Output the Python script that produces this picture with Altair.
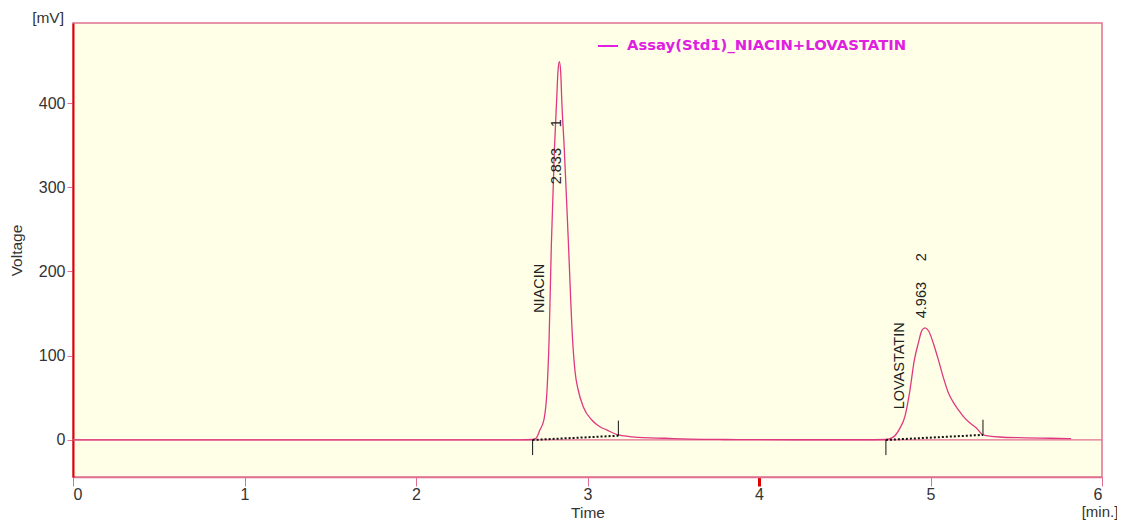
import altair as alt
import pandas as pd

# Chromatogram trace (time in min, signal in mV)
times = [0.0, 0.5, 1.0, 1.5, 2.0, 2.5, 2.60, 2.68, 2.70, 2.723, 2.746, 2.764, 2.776,
         2.789, 2.807, 2.820, 2.828, 2.836, 2.844, 2.850, 2.865, 2.888, 2.913, 2.928,
         2.946, 2.975, 3.025, 3.07, 3.112, 3.18, 3.3, 3.45, 3.6, 3.8, 4.0, 4.3, 4.6,
         4.74, 4.78, 4.822, 4.851, 4.877, 4.906, 4.929, 4.95, 4.968, 4.99, 5.016,
         5.046, 5.075, 5.104, 5.135, 5.165, 5.191, 5.23, 5.269, 5.306, 5.4, 5.55,
         5.7, 5.82]
volts = [0.0, 0.0, 0.0, 0.0, 0.0, 0.0, 0.0, 0.5, 2.0, 12.0, 24.0, 59.0, 119.0,
         230.0, 344.0, 403.0, 438.0, 449.0, 436.0, 403.0, 344.0, 237.0, 119.0, 80.0,
         59.0, 39.5, 23.7, 16.0, 11.9, 5.9, 3.0, 2.0, 1.0, 0.5, 0.3, 0.2, 0.2,
         0.5, 3.0, 14.0, 28.0, 55.0, 95.0, 115.0, 130.0, 133.0, 129.0, 115.0,
         95.0, 74.0, 56.0, 44.0, 35.0, 28.0, 20.0, 14.0, 6.0, 3.5, 2.5,
         2.0, 1.5]

# Integration baselines
base_peak = [1, 1, 2, 2]
base_time = [2.68, 3.18, 4.74, 5.306]
base_volt = [0.0, 5.0, 0.0, 6.0]

# Integration tick marks (time, from, to)
mark_time = [2.68, 3.18, 4.74, 5.306]
mark_from = [0.0, 5.0, 0.0, 6.0]
mark_to = [-18.0, 23.0, -18.0, 24.0]

# Peak annotations
ann_text = ["NIACIN", "2.833", "1", "LOVASTATIN", "4.963", "2"]
ann_time = [2.723, 2.822, 2.822, 4.822, 4.950, 4.950]
ann_volt = [180.0, 325.0, 376.0, 88.0, 166.0, 217.0]

legend_label = "Assay(Std1)_NIACIN+LOVASTATIN"
x_ticks = [0, 1, 2, 3, 4, 5, 6]
y_ticks = [0, 100, 200, 300, 400]

FONT = "Liberation Sans"
TRACE = "#E0387F"

trace_df = pd.DataFrame({"t": times, "v": volts})
base_df = pd.DataFrame({"peak": base_peak, "t": base_time, "v": base_volt})
mark_df = pd.DataFrame({"t": mark_time, "v": mark_from, "v2": mark_to})
ann_df = pd.DataFrame({"txt": ann_text, "t": ann_time, "v": ann_volt})

xscale = alt.Scale(domain=[0, 6], nice=False, zero=False)
yscale = alt.Scale(domain=[-44, 495], nice=False, zero=False)

xaxis = alt.Axis(
    title="Time", values=x_ticks, format="d", grid=False,
    domainColor="#E07090", domainWidth=1.5,
    tickColor={"condition": {"test": "datum.value == 4", "value": "#E00000"}, "value": "#E07090"},
    tickWidth={"condition": {"test": "datum.value == 4", "value": 3}, "value": 1},
    tickSize=9, labelPadding=0, labelFontSize=16, labelColor="#333333",
    labelFont=FONT, titleFont=FONT, titleFontSize=15.5, titleFontWeight="normal",
    titleColor="#333333", titlePadding=3,
)
yaxis = alt.Axis(
    title="Voltage", values=y_ticks, format="d", grid=False,
    domainColor="#E00000", domainWidth=2, tickColor="#E07090", tickSize=6,
    labelFontSize=16, labelColor="#333333", labelFont=FONT, labelPadding=2,
    titleFont=FONT, titleFontSize=15.5, titleFontWeight="normal", titleColor="#333333",
    titlePadding=14,
)

zero_rule = alt.Chart(pd.DataFrame({"v": [0]})).mark_rule(
    color="#E07090", strokeWidth=1.2
).encode(y=alt.Y("v:Q", scale=yscale, axis=yaxis))

trace = alt.Chart(trace_df).mark_line(
    color=TRACE, strokeWidth=1.3, interpolate="monotone"
).encode(
    x=alt.X("t:Q", scale=xscale, axis=xaxis),
    y=alt.Y("v:Q", scale=yscale, axis=yaxis),
)

baselines = alt.Chart(base_df).mark_line(
    color="#111111", strokeWidth=2, strokeDash=[2, 2]
).encode(
    x=alt.X("t:Q", scale=xscale), y=alt.Y("v:Q", scale=yscale), detail="peak:N"
)

marks = alt.Chart(mark_df).mark_rule(color="#111111", strokeWidth=1).encode(
    x=alt.X("t:Q", scale=xscale), y=alt.Y("v:Q", scale=yscale), y2="v2:Q"
)

anns = alt.Chart(ann_df).mark_text(
    angle=270, align="center", baseline="middle", font=FONT, fontSize=14.5,
    color="#222222"
).encode(
    x=alt.X("t:Q", scale=xscale), y=alt.Y("v:Q", scale=yscale), text="txt:N"
)

legend_line = alt.Chart(pd.DataFrame({"a": [0]})).mark_rule(
    color="#E020E0", strokeWidth=2
).encode(x=alt.value(525), x2=alt.value(545), y=alt.value(23))
legend_text = alt.Chart(pd.DataFrame({"txt": [legend_label]})).mark_text(
    align="left", baseline="middle", font="DejaVu Sans", fontSize=14.8, fontWeight="bold",
    color="#E020E0"
).encode(x=alt.value(554), y=alt.value(23), text="txt:N")

unit_y = alt.Chart(pd.DataFrame({"txt": ["[mV]"]})).mark_text(
    align="right", baseline="middle", font=FONT, fontSize=15.5, color="#333333"
).encode(x=alt.value(-9), y=alt.value(-5), text="txt:N")
unit_x = alt.Chart(pd.DataFrame({"txt": ["[min.]"]})).mark_text(
    align="center", baseline="middle", font=FONT, fontSize=15, color="#333333"
).encode(x=alt.value(1027), y=alt.value(489), text="txt:N")

chart = alt.layer(
    zero_rule, trace, baselines, marks, anns, legend_line, legend_text, unit_y, unit_x
).properties(
    width=1029, height=454,
    autosize=alt.AutoSizeParams(type="none"),
    padding={"left": 65, "top": 15, "right": 15, "bottom": 44},
).configure(background="white").configure_view(
    fill="#FFFFE8", stroke="#E07090", strokeWidth=1.5
)

chart.save("out.html", embed_options={"renderer": "svg", "actions": False})
